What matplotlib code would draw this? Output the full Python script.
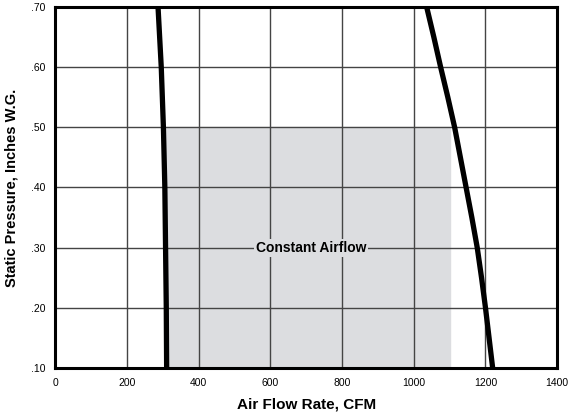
import matplotlib.pyplot as plt
from matplotlib.ticker import FuncFormatter

plt.rcParams['font.family'] = ['Liberation Sans', 'DejaVu Sans']

# 左曲线
left_p = [0.70, 0.60, 0.50, 0.40, 0.30, 0.20, 0.10]
left_cfm = [287, 296, 302, 306, 308, 310, 311]
# 右曲线
right_p = [0.70, 0.65, 0.60, 0.55, 0.50, 0.45, 0.40, 0.35, 0.30, 0.25, 0.20, 0.15, 0.10]
right_cfm = [1036, 1056, 1075, 1095, 1114, 1130, 1146, 1162, 1177, 1189, 1200, 1210, 1220]
# 恒定风量区域
box_x = [310, 1100]
box_top = 0.50

fig = plt.figure(figsize=(5.68, 4.12), dpi=100)
ax = fig.add_axes([0.097, 0.107, 0.884, 0.876])

ax.fill_between(box_x, 0.10, box_top, color='#dcdde0', zorder=0)
ax.set_xlim(0, 1400)
ax.set_ylim(0.10, 0.70)
ax.set_xticks(range(0, 1401, 200))
ax.set_yticks([0.1, 0.2, 0.3, 0.4, 0.5, 0.6, 0.7])
ax.yaxis.set_major_formatter(FuncFormatter(lambda v, p: ('%.2f' % v)[1:]))
ax.grid(True, color='#444444', linewidth=1.0, zorder=1)
ax.set_axisbelow(True)
ax.tick_params(length=0, labelsize=7.5, pad=7)

ax.plot(left_cfm, left_p, color='black', linewidth=3.8, solid_capstyle='butt', zorder=3)
ax.plot(right_cfm, right_p, color='black', linewidth=3.8, solid_capstyle='butt', zorder=3)

ax.text(714, 0.30, 'Constant Airflow', ha='center', va='center', fontsize=10,
        fontweight='bold', zorder=2,
        bbox=dict(facecolor='#dcdde0', edgecolor='none', pad=1.5))

for s in ax.spines.values():
    s.set_linewidth(2.2)
    s.set_zorder(4)

ax.set_xlabel('Air Flow Rate, CFM', fontsize=11, fontweight='bold', labelpad=7)
ax.set_ylabel('Static Pressure, Inches W.G.', fontsize=10.5, fontweight='bold', labelpad=9)

plt.savefig('out.png', dpi=100)
